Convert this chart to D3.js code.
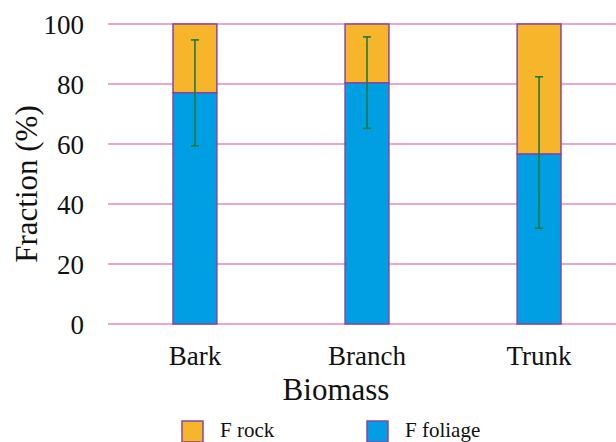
<!DOCTYPE html>
<html>
<head>
<meta charset="utf-8">
<script src="https://cdn.jsdelivr.net/npm/d3@7"></script>
<style>
  html, body { margin: 0; padding: 0; background: #fff; }
  svg { display: block; }
  text { font-family: "Liberation Serif", "Times New Roman", serif; fill: #111; }
</style>
</head>
<body>
<svg id="chart" width="616" height="442"></svg>
<script>
// Biomass fractions (%)
const categories = ["Bark", "Branch", "Trunk"];
const foliage = [77.1, 80.4, 56.7];
const rock = [22.9, 19.6, 43.3];
const errTop = [94.7, 95.7, 82.4];
const errBottom = [59.4, 65.2, 31.9];
const yTicks = [0, 20, 40, 60, 80, 100];
const seriesNames = ["F rock", "F foliage"];
const seriesColors = ["#f7b52b", "#009fe3"];

const svg = d3.select("#chart");
const W = 616;
const serif = '"Liberation Serif", "Times New Roman", serif';

const x = d3.scaleBand().domain(categories).range([109, 625]).paddingInner(0.745).paddingOuter(0.372);
const y = d3.scaleLinear().domain([0, 100]).range([324, 24]);

// Horizontal gridlines
svg.append("g")
  .selectAll("line")
  .data(yTicks)
  .join("line")
  .attr("x1", 108).attr("x2", W)
  .attr("y1", d => y(d)).attr("y2", d => y(d))
  .attr("stroke", "#e48ac4")
  .attr("stroke-width", 1.3);

// Y axis labels
const yAxis = d3.axisLeft(y).tickValues(yTicks).tickSize(0).tickPadding(0);
const gy = svg.append("g").attr("transform", "translate(84,0)").call(yAxis)
  .attr("font-family", serif);
gy.select(".domain").remove();
gy.selectAll("text").style("font-size", "27px").attr("dy", "0.34em").attr("fill", "#111");

// X axis labels
const xAxis = d3.axisBottom(x).tickSize(0).tickPadding(0);
const gx = svg.append("g").attr("transform", "translate(0,365)").call(xAxis)
  .attr("font-family", serif);
gx.select(".domain").remove();
gx.selectAll("text").style("font-size", "27px").attr("dy", "0").attr("fill", "#111");

// Stacked bars
const rows = categories.map((c, i) => ({ cat: c, foliage: foliage[i], rock: rock[i] }));
const stack = d3.stack().keys(["foliage", "rock"])(rows);
const colorByKey = { foliage: seriesColors[1], rock: seriesColors[0] };

svg.append("g")
  .selectAll("g")
  .data(stack)
  .join("g")
  .attr("fill", d => colorByKey[d.key])
  .selectAll("rect")
  .data(d => d)
  .join("rect")
  .attr("x", d => x(d.data.cat))
  .attr("width", x.bandwidth())
  .attr("y", d => y(d[1]))
  .attr("height", d => y(d[0]) - y(d[1]))
  .attr("stroke", "#8447a6")
  .attr("stroke-width", 1.5);

// Error bars
const eg = svg.append("g").attr("stroke", "#1d7a3c").attr("stroke-width", 1.6);
categories.forEach((c, i) => {
  const cx = x(c) + x.bandwidth() / 2;
  eg.append("line").attr("x1", cx).attr("x2", cx).attr("y1", y(errTop[i])).attr("y2", y(errBottom[i]));
  eg.append("line").attr("x1", cx - 4).attr("x2", cx + 4).attr("y1", y(errTop[i])).attr("y2", y(errTop[i]));
  eg.append("line").attr("x1", cx - 4).attr("x2", cx + 4).attr("y1", y(errBottom[i])).attr("y2", y(errBottom[i]));
});

// Axis titles
svg.append("text")
  .attr("transform", "translate(37,184) rotate(-90)")
  .attr("text-anchor", "middle")
  .style("font-size", "31px")
  .text("Fraction (%)");

svg.append("text")
  .attr("x", 336).attr("y", 400)
  .attr("text-anchor", "middle")
  .style("font-size", "31px")
  .text("Biomass");

// Legend
const legendX = [182, 367];
const lg = svg.append("g");
seriesNames.forEach((name, i) => {
  lg.append("rect")
    .attr("x", legendX[i]).attr("y", 421)
    .attr("width", 21).attr("height", 21)
    .attr("fill", seriesColors[i])
    .attr("stroke", "#8447a6").attr("stroke-width", 1.5);
  lg.append("text")
    .attr("x", legendX[i] + 38).attr("y", 437)
    .style("font-size", "21px")
    .text(name);
});
</script>
</body>
</html>
